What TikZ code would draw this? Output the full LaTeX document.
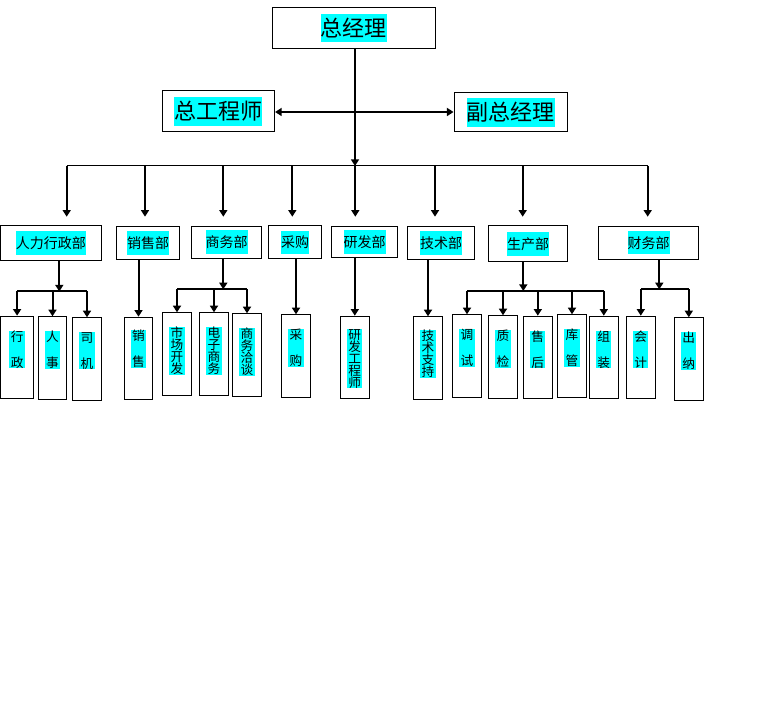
\documentclass[tikz,border=0pt]{standalone}
\usepackage{fontspec}
\setmainfont{Noto Sans CJK SC}
\usetikzlibrary{arrows.meta,positioning}

\definecolor{hlcyan}{RGB}{0,255,255}
\tikzset{
  box/.style={draw,line width=0.75pt,inner sep=0pt},
  leaf/.style={box,anchor=north,minimum width=22pt,minimum height=62pt},
  arr/.style={line width=1.5pt,-{Triangle[width=6pt,length=5pt]}},
  bus/.style={line width=0.75pt},
  sub/.style={line width=1.5pt},
  tl/.style={fill=hlcyan,inner xsep=0pt,inner ysep=3pt,font=\fontsize{16.5}{16.5}\selectfont},
  dl/.style={fill=hlcyan,inner xsep=0pt,inner ysep=4pt,font=\fontsize{10.5}{10.5}\selectfont},
  ll/.style={fill=hlcyan,inner xsep=1pt,inner ysep=0pt,align=center,font=\fontsize{9.5}{9}\selectfont},
  lltwo/.style={ll,font=\fontsize{9.5}{19.5}\selectfont}
}

\begin{document}
\begin{tikzpicture}[x=0.75pt,y=-0.75pt]
\useasboundingbox (0,0) rectangle (772,713);

%Top boxes
\node[box,minimum width=122.25pt,minimum height=30.75pt] (zjl) at (353.5,27.8) {};
\node[box,minimum width=84.4pt,minimum height=30.75pt] (zgcs) at (218.3,111.5) {};
\node[box,minimum width=85.1pt,minimum height=29.25pt] (fzjl) at (510.8,112.5) {};
\node[tl] (tzjl) at (zjl) {总经理};
\node[tl] (tzgcs) at (zgcs) {总工程师};
\node[tl] (tfzjl) at (fzjl) {副总经理};

%Department boxes
\node[box,minimum width=75.75pt,minimum height=26pt] (d1) at (51,243.3) {};
\node[box,minimum width=47.5pt,minimum height=25pt] (d2) at (148,242.7) {};
\node[box,minimum width=52.8pt,minimum height=24.2pt] (d3) at (226.5,242.2) {};
\node[box,minimum width=40pt,minimum height=24.5pt] (d4) at (295,242.3) {};
\node[box,minimum width=49.8pt,minimum height=23.5pt] (d5) at (364.5,241.7) {};
\node[box,minimum width=50pt,minimum height=25pt] (d6) at (441,242.7) {};
\node[box,minimum width=59.5pt,minimum height=26.8pt] (d7) at (528,243.8) {};
\node[box,minimum width=75.3pt,minimum height=25pt] (d8) at (648.5,242.7) {};
\node[dl] (td1) at (d1) {人力行政部};
\node[dl] (td2) at (d2) {销售部};
\node[dl] (td3) at (d3) {商务部};
\node[dl] (td4) at (d4) {采购};
\node[dl] (td5) at (d5) {研发部};
\node[dl] (td6) at (d6) {技术部};
\node[dl] (td7) at (d7) {生产部};
\node[dl] (td8) at (d8) {财务部};

%Leaf boxes
\node[leaf,minimum width=24.9pt] (l11) at (17.1,315.7) {};
\node[leaf,minimum width=21.3pt] (l12) at (52.5,316.3) {};
\node[leaf] (l13) at (87,317.3) {};
\node[leaf,minimum width=21.3pt] (l21) at (138.5,316.7) {};
\node[leaf] (l31) at (177,312.3) {};
\node[leaf] (l32) at (214,312.3) {};
\node[leaf] (l33) at (247,313.3) {};
\node[leaf] (l41) at (296,314.3) {};
\node[leaf] (l51) at (354.8,315.7) {};
\node[leaf] (l61) at (428,316.3) {};
\node[leaf] (l71) at (467,314.3) {};
\node[leaf] (l72) at (503,315.3) {};
\node[leaf] (l73) at (537.8,315.7) {};
\node[leaf] (l74) at (572,314.3) {};
\node[leaf] (l75) at (603.8,315.7) {};
\node[leaf] (l81) at (640.8,315.7) {};
\node[leaf] (l82) at (688.8,317.3) {};

% Text Node
\node[lltwo,below=11pt of l11.north] (t11) {行\\政};
\node[lltwo,below=11pt of l12.north] (t12) {人\\事};
\node[lltwo,below=11pt of l13.north] (t13) {司\\机};
\node[lltwo,below=10pt of l21.north] (t21) {销\\售};
\node[ll,below=11pt of l31.north] (t31) {市\\场\\开\\发};
\node[ll,below=11pt of l32.north] (t32) {电\\子\\商\\务};
\node[ll,below=11pt of l33.north] (t33) {商\\务\\洽\\谈};
\node[lltwo,below=11pt of l41.north] (t41) {采\\购};
\node[ll,below=10pt of l51.north] (t51) {研\\发\\工\\程\\师};
\node[ll,below=10pt of l61.north] (t61) {技\\术\\支\\持};
\node[lltwo,below=11pt of l71.north] (t71) {调\\试};
\node[lltwo,below=11pt of l72.north] (t72) {质\\检};
\node[lltwo,below=11pt of l73.north] (t73) {售\\后};
\node[lltwo,below=11pt of l74.north] (t74) {库\\管};
\node[lltwo,below=11pt of l75.north] (t75) {组\\装};
\node[lltwo,below=11pt of l81.north] (t81) {会\\计};
\node[lltwo,below=11pt of l82.north] (t82) {出\\纳};

%Top connectors
\coordinate (b0) at (355,166);
\coordinate (m0) at (355,112);
\draw[arr] (b0 |- zjl.south) -- (b0);
\draw[arr] (m0) -- (zgcs.east |- m0);
\draw[arr] (m0) -- (fzjl.west |- m0);

%Bus to departments
\coordinate (e1) at (66.7,216.7);
\coordinate (e2) at (145,216.7);
\coordinate (e3) at (223.3,216.7);
\coordinate (e4) at (292.3,216.7);
\coordinate (e5) at (355.3,216.7);
\coordinate (e6) at (435,216.7);
\coordinate (e7) at (522.7,216.7);
\coordinate (e8) at (647.7,216.7);
\draw[bus] (e1 |- b0) -- (e8 |- b0);
\foreach \i in {1,...,8}
  \draw[arr] (e\i |- b0) -- (e\i);

%Department to leaves
\coordinate (s1) at (59.3,291.5);
\coordinate (s3) at (223.3,289.3);
\coordinate (s7) at (523.3,291);
\coordinate (s8) at (659.3,289.3);
\draw[arr] (s1 |- d1.south) -- (s1);
\draw[sub] (l11.north |- s1) -- (l13.north |- s1);
\foreach \j in {11,12,13}
  \draw[arr] (l\j.north |- s1) -- (l\j.north);
\draw[arr] (s3 |- d3.south) -- (s3);
\draw[sub] (l31.north |- s3) -- (l33.north |- s3);
\foreach \j in {31,32,33}
  \draw[arr] (l\j.north |- s3) -- (l\j.north);
\draw[arr] (s7 |- d7.south) -- (s7);
\draw[sub] (l71.north |- s7) -- (l75.north |- s7);
\foreach \j in {71,...,75}
  \draw[arr] (l\j.north |- s7) -- (l\j.north);
\draw[arr] (s8 |- d8.south) -- (s8);
\draw[sub] (l81.north |- s8) -- (l82.north |- s8);
\foreach \j in {81,82}
  \draw[arr] (l\j.north |- s8) -- (l\j.north);
\draw[arr] (l21.north |- d2.south) -- (l21.north);
\draw[arr] (l41.north |- d4.south) -- (l41.north);
\draw[arr] (l51.north |- d5.south) -- (l51.north);
\draw[arr] (l61.north |- d6.south) -- (l61.north);

\end{tikzpicture}
\end{document}
